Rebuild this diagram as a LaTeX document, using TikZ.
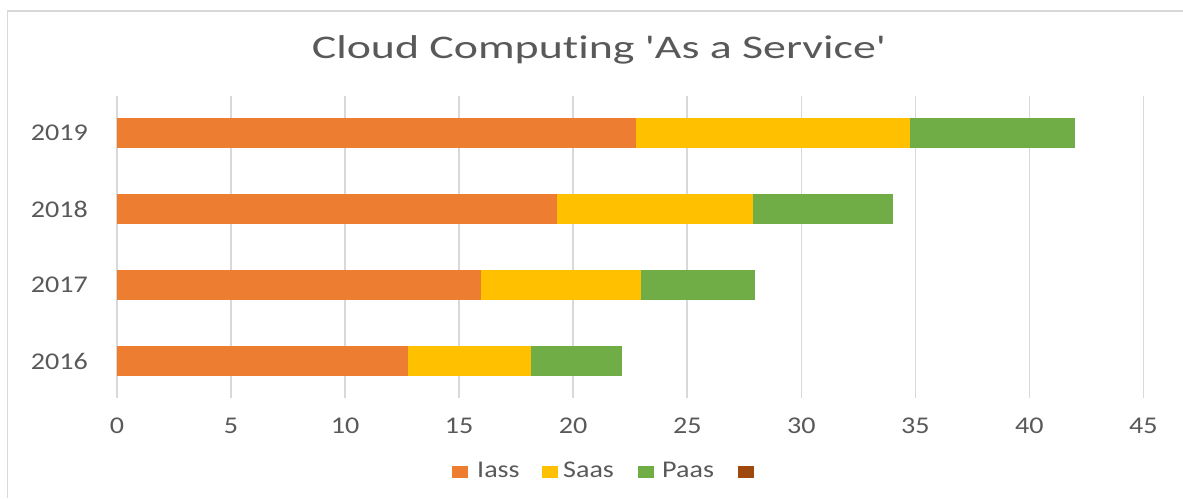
\documentclass[tikz,border=0pt]{standalone}
\usepackage{fontspec}
\setmainfont{Carlito}[Ligatures={NoCommon}]
\definecolor{txtgrey}{HTML}{595959}
\definecolor{gridgrey}{HTML}{D9D9D9}
\definecolor{iass}{HTML}{ED7D31}
\definecolor{saas}{HTML}{FFC000}
\definecolor{paas}{HTML}{70AD47}
\definecolor{extra}{HTML}{9E480E}
\newcommand{\widetext}[1]{\scalebox{1.17}[1]{#1}}
\newcommand{\titletext}[1]{\scalebox{1.39}[1]{#1}}
\tikzset{
  label/.style={text=txtgrey, inner sep=0pt, font=\fontsize{24}{28}\selectfont},
  title/.style={text=txtgrey, inner sep=0pt, font=\fontsize{33}{38}\selectfont},
  grid/.style={draw=gridgrey, line width=1.6pt},
  frame/.style={draw=gridgrey, line width=1.6pt},
  key/.style={draw=none, minimum width=16pt, minimum height=12pt, inner sep=0pt}
}
\begin{document}
\begin{tikzpicture}[x=1pt, y=-1pt]
\useasboundingbox (0,0) rectangle (1183,498);
% chart frame (top and left edges)
\draw[frame] (7.5,498) -- (7.5,11) -- (1183,11);
% title
\node[title, anchor=base] (title) at (599,58) {\titletext{Cloud Computing \textquotesingle As a Service\textquotesingle}};
% vertical grid lines and value labels, 0 to 45 in steps of 5
\foreach \v in {0,5,...,45} {
  \pgfmathsetmacro{\gx}{117+\v*22.81}
  \draw[grid] (\gx,96) -- (\gx,398);
  \node[label, anchor=base] (tick\v) at (\gx,433) {\widetext{\v}};
}
% stacked bars: year, centre y, Iass end, Saas end, Paas end
\foreach \yr/\cy/\a/\b/\c in {2019/133/22.75/34.77/42.0, 2018/209/19.3/27.9/34.0, 2017/285/15.96/22.97/27.96, 2016/361/12.76/18.16/22.15} {
  \pgfmathsetmacro{\xa}{117+\a*22.81}
  \pgfmathsetmacro{\xb}{117+\b*22.81}
  \pgfmathsetmacro{\xc}{117+\c*22.81}
  \fill[iass] (117,\cy-15) rectangle (\xa,\cy+15);
  \fill[saas] (\xa,\cy-15) rectangle (\xb,\cy+15);
  \fill[paas] (\xb,\cy-15) rectangle (\xc,\cy+15);
  \node[label, anchor=east] (year\yr) at (88,\cy) {\widetext{\yr}};
}
% legend
\node[key, fill=iass] (kI) at (460,471.5) {};
\node[label, anchor=base west] (tI) at (477,477) {\widetext{Iass}};
\node[key, fill=saas] (kS) at (550,471.5) {};
\node[label, anchor=base west] (tS) at (563,477) {\widetext{Saas}};
\node[key, fill=paas] (kP) at (646,471.5) {};
\node[label, anchor=base west] (tP) at (662,477) {\widetext{Paas}};
\node[key, fill=extra] (kE) at (746,471.5) {};
\end{tikzpicture}
\end{document}
